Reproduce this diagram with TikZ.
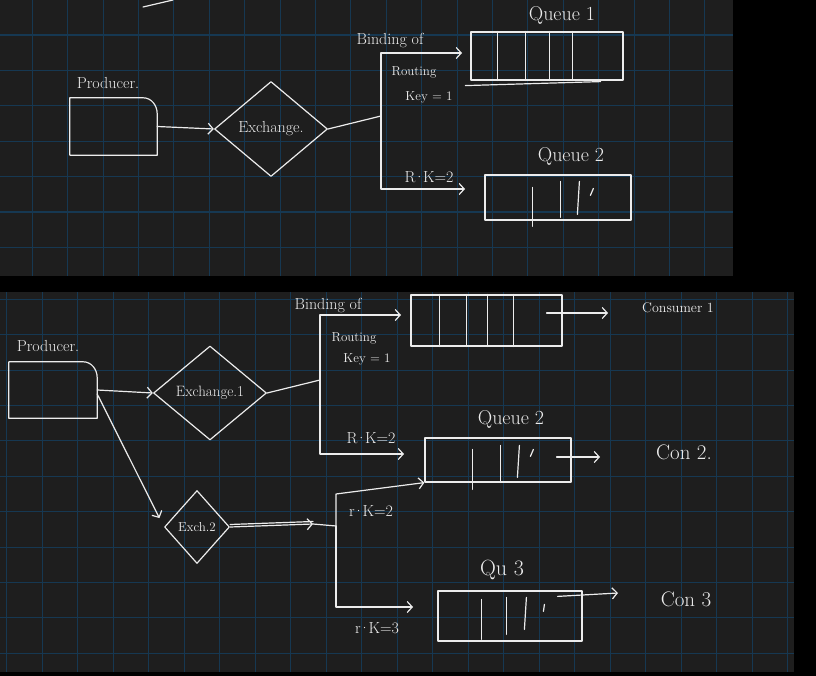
\documentclass[tikz,border=0pt]{standalone}
\usepackage{fontspec}
\usetikzlibrary{shapes.geometric,arrows.meta,calc}
\definecolor{bgpanel}{RGB}{30,30,30}
\definecolor{gridc}{RGB}{22,56,82}
\definecolor{chalk}{RGB}{236,236,236}
\newcommand\myfs[1]{\fontsize{#1}{#1}\selectfont}
\newcommand\mydot{\kern-0.12em·\kern-0.12em}
\tikzset{
  ink/.style={draw=chalk,line width=1.2pt,line cap=round,line join=round},
  arr/.style={ink,-{Straight Barb[length=5pt,width=11pt]}},
  lbl/.style={text=chalk,inner sep=0pt,font=\myfs{#1}},
  gridline/.style={draw=gridc,line width=1.1pt},
  qbox/.style={ink,rectangle,inner sep=0pt},
  pbox/.style={draw=none,rectangle,inner sep=0pt},
  dia/.style={ink,diamond,inner sep=0pt,text=chalk}
}
\begin{document}
\begin{tikzpicture}[x=1pt,y=-1pt]
\useasboundingbox (0,0) rectangle (816,676);
\fill[black] (0,0) rectangle (816,676);
% panels
\fill[bgpanel] (0,0) rectangle (733,276);
\fill[bgpanel] (0,292) rectangle (794,672);
\begin{scope}
\clip (0,0) rectangle (733,276);
\foreach \i in {0,...,20} {\draw[gridline] ({32.3+35.4*\i},0) -- ({32.3+35.4*\i},276);}
\foreach \i in {0,...,7} {\draw[gridline] (0,{35+35.4*\i}) -- (733,{35+35.4*\i});}
\end{scope}
\begin{scope}
\clip (0,292) rectangle (794,672);
\foreach \i in {0,...,22} {\draw[gridline] ({6.7+35.5*\i},292) -- ({6.7+35.5*\i},672);}
\foreach \i in {0,...,10} {\draw[gridline] (0,{299.3+35.4*\i}) -- (794,{299.3+35.4*\i});}
\end{scope}

% ================= TOP PANEL =================
\draw[ink] (143,7) -- (173,0);
\node[lbl=16] (prodlbl1) at (108,83) {Producer.};
\node[pbox,minimum width=87pt,minimum height=57pt] (prod1) at (113.5,126.5) {};
\draw[ink] (prod1.south west) -- (prod1.north west) -- ([xshift=-14pt]prod1.north east)
  to[out=0,in=90] ([yshift=-16pt]prod1.north east) -- (prod1.south east) -- cycle;
\node[dia,minimum width=113pt,minimum height=95pt,font=\myfs{16}] (ex1) at (271,129) {Exchange.};
\draw[arr] (prod1.east) -- (ex1.west);

\coordinate (j1) at (381,116);
\coordinate (a1) at (462,53);
\coordinate (a2) at (465,189);
\draw[ink] (ex1.east) -- (j1);
\draw[arr] (j1) |- (a1);
\draw[arr] (j1) |- (a2);
\node[lbl=16] (bind1) at (390,41) {Binding of};
\node[lbl=13] (rout1) at (414,72) {Routing};
\node[lbl=13] (key1) at (429,97) {Key = 1};
\node[lbl=16] (rk1) at (429,177) {R\mydot K=2};

\node[qbox,minimum width=152pt,minimum height=48pt] (q1) at (547,56) {};
\foreach \x in {27,55,79,102} {\draw[ink] ($(q1.north west)+(\x,0)$) -- ($(q1.south west)+(\x,0)$);}
\draw[ink] ($(q1.south west)+(-5,5)$) -- ($(q1.south east)+(-23,1)$);
\node[lbl=20] (q1lbl) at (562,15) {Queue 1};

\node[qbox,minimum width=146pt,minimum height=45pt] (q2) at (558,197.5) {};
\draw[ink] ($(q2.north west)+(48,13)$) -- ($(q2.north west)+(48,52)$);
\draw[ink] ($(q2.north west)+(76,7)$) -- ($(q2.north west)+(76,43)$);
\draw[ink] ($(q2.north west)+(95,7)$) -- ($(q2.north west)+(93,40)$);
\draw[ink] ($(q2.north west)+(109,14)$) -- ($(q2.north west)+(106,21)$);
\node[lbl=20] (q2lbl) at (571,156) {Queue 2};

% ================= BOTTOM PANEL =================
\node[lbl=16] (prodlbl2) at (48,346) {Producer.};
\node[pbox,minimum width=88pt,minimum height=56pt] (prod2) at (53,390) {};
\draw[ink] (prod2.south west) -- (prod2.north west) -- ([xshift=-14pt]prod2.north east)
  to[out=0,in=90] ([yshift=-16pt]prod2.north east) -- (prod2.south east) -- cycle;
\node[dia,minimum width=113pt,minimum height=94pt,font=\myfs{15}] (ex1b) at (210,393) {Exchange.1};
\node[dia,minimum width=65pt,minimum height=73pt,font=\myfs{13}] (ex2b) at (197,527) {Exch.2};
\draw[arr] (prod2.east) -- (ex1b.west);
\draw[arr,shorten >=10pt] ([yshift=-4pt]prod2.east) -- (ex2b.west);

\coordinate (j2) at (320,380);
\coordinate (b2) at (401,315);
\coordinate (b3) at (404,454);
\draw[ink] (ex1b.east) -- (j2);
\draw[arr] (j2) |- (b2);
\draw[arr] (j2) |- (b3);
\node[lbl=16] (bind2) at (328,306) {Binding of};
\node[lbl=13] (rout2) at (354,338) {Routing};
\node[lbl=13] (key2) at (367,359) {Key = 1};
\node[lbl=16] (rk2) at (371,438) {R\mydot K=2};

\node[qbox,minimum width=151pt,minimum height=51pt] (q1b) at (486.5,320.5) {};
\foreach \x in {29,56,77,103} {\draw[ink] ($(q1b.north west)+(\x,0)$) -- ($(q1b.south west)+(\x,0)$);}
\node[lbl=14] (con1) at (678,308) {Consumer 1};
\coordinate (c1) at (608,313);
\draw[arr] ($(q1b.east)+(-16,-7.5)$) -- (c1);

\node[qbox,minimum width=146pt,minimum height=44pt] (q2b) at (498,460) {};
\draw[ink] ($(q2b.north west)+(48,12)$) -- ($(q2b.north west)+(48,52)$);
\draw[ink] ($(q2b.north west)+(76,8)$) -- ($(q2b.north west)+(76,45)$);
\draw[ink] ($(q2b.north west)+(95,8)$) -- ($(q2b.north west)+(93,40)$);
\draw[ink] ($(q2b.north west)+(109,12)$) -- ($(q2b.north west)+(106,19)$);
\node[lbl=20] (q2blbl) at (511,419) {Queue 2};
\node[lbl=21] (con2) at (684,452) {Con 2.};
\coordinate (c2) at (600,457);
\draw[arr] ($(q2b.east)+(-15,-3)$) -- (c2);

\coordinate (m2) at (313,524);
\coordinate (j3) at (336,526);
\coordinate (k3) at (413,607);
\draw[arr] (ex2b.east) -- (m2);
\draw[ink] ([yshift=2.5pt]ex2b.east) -- ([yshift=2.5pt]m2);
\draw[ink] (m2) -- (j3);
\draw[arr] (j3) -- ++(0,-32) -- (q2b.south west);
\draw[arr] (j3) |- (k3);
\node[lbl=16] (rk3) at (371,511) {r\mydot K=2};
\node[lbl=16] (rk4) at (377,628) {r\mydot K=3};

\node[qbox,minimum width=144pt,minimum height=50pt] (q3) at (510,616) {};
\draw[ink] ($(q3.north west)+(44,9)$) -- ($(q3.north west)+(44,49)$);
\draw[ink] ($(q3.north west)+(69,7)$) -- ($(q3.north west)+(69,44)$);
\draw[ink] ($(q3.north west)+(89,7)$) -- ($(q3.north west)+(87,39)$);
\draw[ink] ($(q3.north west)+(107,14)$) -- ($(q3.north west)+(106,21)$);
\node[lbl=22] (q3lbl) at (502,570) {Qu 3};
\node[lbl=21] (con3) at (686,599) {Con 3};
\coordinate (c3) at (618,593);
\draw[arr] ($(q3.north east)+(-25,6)$) -- (c3);
\end{tikzpicture}
\end{document}
